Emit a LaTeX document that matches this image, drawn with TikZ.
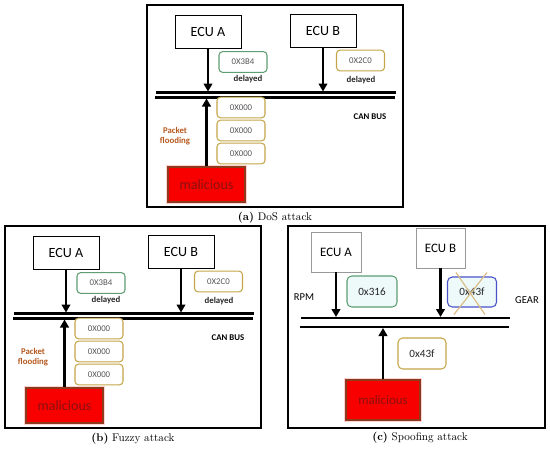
\documentclass[tikz,border=0pt]{standalone}
\usepackage{fontspec}
\newfontfamily\carlito{Carlito}
\usetikzlibrary{arrows.meta, positioning, calc}
\definecolor{msggreen}{HTML}{5E9E72}
\definecolor{msggold}{HTML}{C4A548}
\definecolor{msgblue}{HTML}{4A52C8}
\definecolor{msgtint}{HTML}{EEF9FA}
\definecolor{floodorange}{HTML}{B5581E}
\definecolor{malred}{HTML}{F80000}
\definecolor{malrim}{HTML}{8E3A1C}
\definecolor{maltext}{HTML}{8A1010}
\definecolor{crosstan}{HTML}{D9BC85}
\definecolor{hexgray}{HTML}{555555}
\tikzset{
  % boxes on the bus
  ecubox/.style={rectangle, draw=#1, line width=0.7pt, fill=white, minimum width=1.98cm, minimum height=0.99cm, font=\carlito\fontsize{12}{12}\selectfont},
  ecubox/.default=black,
  msgbox/.style={rectangle, rounded corners=3pt, draw=#1, line width=0.9pt, fill=white, minimum width=1.44cm, minimum height=0.62cm, text=hexgray, font=\carlito\fontsize{7.5}{8}\selectfont},
  msgbox/.default=msggold,
  malbox/.style={rectangle, fill=malred, draw=malrim, line width=1.2pt, minimum width=2.31cm, minimum height=1.05cm, text=maltext, font=\carlito\fontsize{12}{12}\selectfont, preaction={draw=pink!70, line width=3.5pt}},
  tag/.style={font=\carlito\bfseries\fontsize{7.5}{8.5}\selectfont, align=center, inner sep=1pt},
  % lines
  arrow/.style={-{Triangle[length=2.4mm, width=2.6mm]}, line width=2.4pt},
  busline/.style={line width=1.8pt},
  panel/.style={line width=1.2pt},
  caption/.style={font=\fontsize{9.5}{10}\selectfont},
}
\begin{document}
\begin{tikzpicture}[x=0.03cm, y=-0.03cm]
  \useasboundingbox (0,0) rectangle (550,449);

  % Panels (a) and (b): same drawing, shifted
  \foreach \p/\dx/\dy/\cap in {a/0/0/{DoS attack}, b/-142/221/{Fuzzy attack}} {
    \begin{scope}[shift={(\dx,\dy)}]
      \draw[panel] (147,5) rectangle (403,207);
      \node[caption] (\p-cap) at (275,217.5) {\textbf{(\p)} \cap};

      % ECUs and their frames
      \node[ecubox] (\p-ecuA) at (208,31.5) {ECU A};
      \node[ecubox] (\p-ecuB) at (323,31) {ECU B};
      \node[msgbox=msggreen] (\p-msgA) at (243,62) {0X3B4};
      \node[msgbox] (\p-msgB) at (360.5,60.5) {0X2C0};
      \node[tag, text=black!85] (\p-delA) at (248,79) {delayed};
      \node[tag, text=black!85] (\p-delB) at (361,80) {delayed};

      % CAN bus
      \coordinate (\p-bus1w) at (156,92.5);
      \coordinate (\p-bus1e) at (396,92.5);
      \coordinate (\p-bus2w) at (155,97.5);
      \coordinate (\p-bus2e) at (395,97.5);
      \draw[busline] (\p-bus1w) -- (\p-bus1e);
      \draw[busline] (\p-bus2w) -- (\p-bus2e);
      \coordinate (\p-tapA) at (208,91.5);
      \coordinate (\p-tapB) at (323,91.5);
      \coordinate (\p-tapM) at (206.5,98.5);
      \node[tag] (\p-bus) at (370,117) {CAN BUS};

      % Flood of zero-ID frames
      \node[msgbox] (\p-flood1) at (241,107.5) {0X000};
      \node[msgbox] (\p-flood2) at (241,130.5) {0X000};
      \node[msgbox] (\p-flood3) at (241,153.5) {0X000};
      \node[tag, text=floodorange] (\p-note) at (175,136) {Packet\\flooding};

      \node[malbox] (\p-mal) at (206.5,184.5) {malicious};

      \draw[arrow] (\p-ecuA) -- (\p-tapA);
      \draw[arrow] (\p-ecuB) -- (\p-tapB);
      \draw[arrow] (\p-mal) -- (\p-tapM);
    \end{scope}
  }

  % Panel (c)
  \draw[panel] (288,226) rectangle (545,428);
  \node[caption] (c-cap) at (420,438) {\textbf{(c)} Spoofing attack};

  \node[ecubox=black!40, minimum width=1.5cm, minimum height=1.2cm, font=\carlito\fontsize{11}{11}\selectfont] (c-ecuA) at (336,252) {ECU A};
  \node[ecubox=black!40, minimum width=1.47cm, minimum height=1.2cm, font=\carlito\fontsize{11}{11}\selectfont] (c-ecuB) at (440.5,248) {ECU B};
  \node[msgbox=msggreen, fill=msgtint, minimum width=1.5cm, minimum height=0.93cm, rounded corners=4pt, text=black!85, font=\carlito\fontsize{9.5}{10}\selectfont] (c-rpm) at (372,291.5) {0x316};
  \node[msgbox=msgblue, fill=msgtint, minimum width=1.47cm, minimum height=0.9cm, rounded corners=4pt, text=black!85, font=\carlito\fontsize{9.5}{10}\selectfont] (c-gear) at (472,292) {0x43f};
  \draw[crosstan, line width=1pt] ($(c-gear.north west)+(9,-4)$) -- ($(c-gear.south east)+(-12,7)$);
  \draw[crosstan, line width=1pt] ($(c-gear.north east)+(-10,-4)$) -- ($(c-gear.south west)+(7,7)$);
  \node[font=\carlito\fontsize{9}{9}\selectfont] (c-rpmlbl) at (304,297) {RPM};
  \node[font=\carlito\fontsize{9}{9}\selectfont] (c-gearlbl) at (527,300) {GEAR};

  \coordinate (c-bus1w) at (301,318);
  \coordinate (c-bus1e) at (510,318);
  \coordinate (c-bus2w) at (300,327);
  \coordinate (c-bus2e) at (509,327);
  \draw[busline] (c-bus1w) -- (c-bus1e);
  \draw[busline] (c-bus2w) -- (c-bus2e);
  \coordinate (c-tapA) at (336,317);
  \coordinate (c-tapB) at (440.5,317);
  \coordinate (c-tapM) at (383,328);

  \node[msgbox, minimum width=1.44cm, minimum height=0.93cm, rounded corners=4pt, text=black!85, font=\carlito\fontsize{9.5}{10}\selectfont] (c-spoof) at (422,353.5) {0x43f};
  \node[malbox, minimum width=2.22cm, minimum height=1.2cm, font=\carlito\fontsize{11}{11}\selectfont] (c-mal) at (383,400) {malicious};

  \draw[arrow] (c-ecuA) -- (c-tapA);
  \draw[arrow] (c-ecuB) -- (c-tapB);
  \draw[arrow] (c-mal) -- (c-tapM);
\end{tikzpicture}
\end{document}
